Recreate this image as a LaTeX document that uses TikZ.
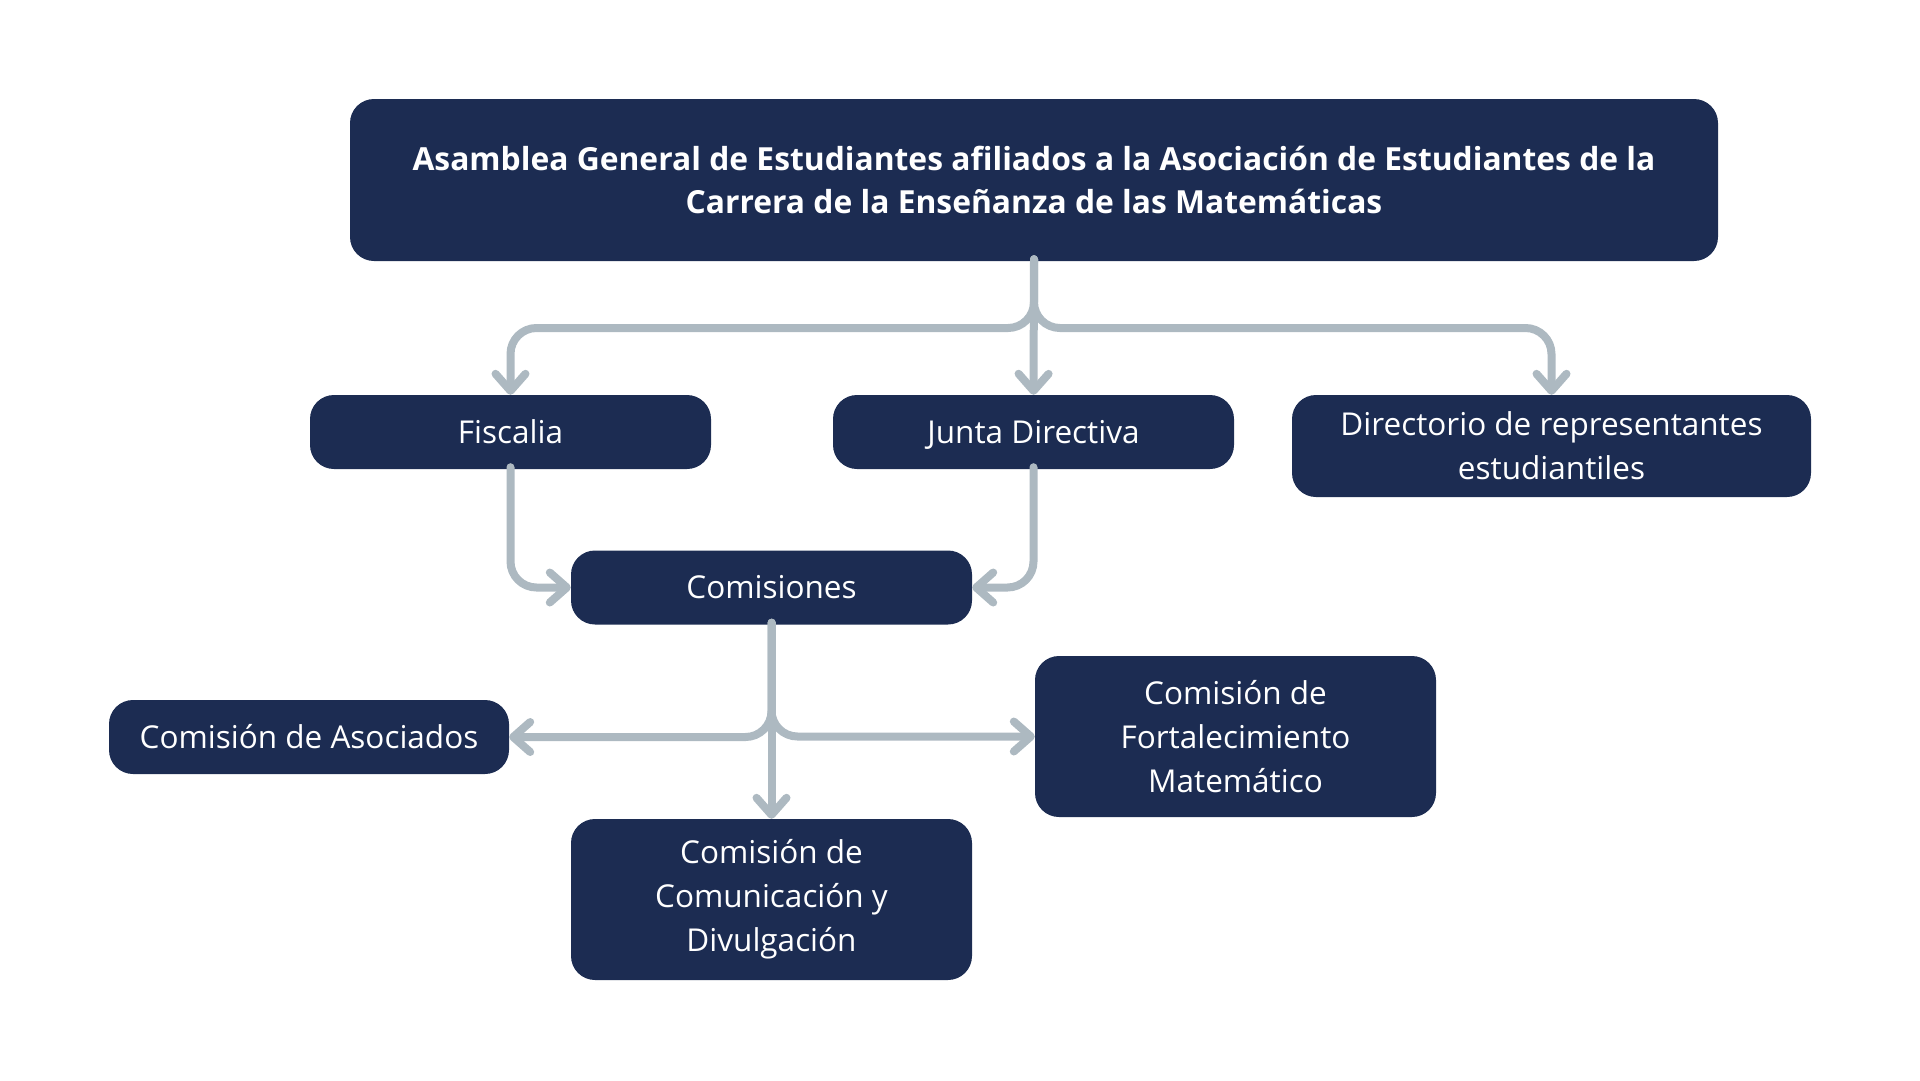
\documentclass[tikz,border=0pt]{standalone}
\usepackage{fontspec}
\setmainfont{Open Sans}
\usetikzlibrary{arrows.meta}
\definecolor{boxblue}{HTML}{1C2C52}
\definecolor{linegray}{HTML}{ADB9C1}
\begin{document}
\begin{tikzpicture}[x=1pt,y=-1pt,
  box/.style={fill=boxblue, rounded corners=24pt, text=white,
    inner sep=0pt, font=\fontsize{31.5}{44}\selectfont},
  multi/.style={box, align=center},
  single/.style={box, text height=30.5pt, text depth=8pt},
  conn/.style={draw=linegray, line width=8pt, rounded corners=26pt, line cap=round,
    -{Straight Barb[length=17pt,width=30pt,line cap=round,line join=round]}}
]
\path[use as bounding box] (0,0) rectangle (1920,1080);

\node[multi, minimum width=1368pt, minimum height=162pt, font=\bfseries\fontsize{31.8}{43}\selectfont] (top) at (1034,180)
  {Asamblea General de Estudiantes afiliados a la Asociación de Estudiantes de la\\Carrera de la Enseñanza de las Matemáticas};
\node[single, minimum width=401pt, minimum height=74pt] (fis) at (510.5,432) {Fiscalia};
\node[single, minimum width=401pt, minimum height=74pt] (jd) at (1033.5,432) {Junta Directiva};
\node[multi, minimum width=519pt, minimum height=102pt] (dir) at (1551.5,446) {Directorio de representantes\\estudiantiles};
\node[single, minimum width=401pt, minimum height=74pt] (com) at (771.5,587.5) {Comisiones};
\node[single, minimum width=400pt, minimum height=74pt] (aso) at (309,737) {Comisión de Asociados};
\node[multi, minimum width=401pt, minimum height=161pt] (fort) at (1235.5,736.5) {Comisión de\\Fortalecimiento\\Matemático};
\node[multi, minimum width=401pt, minimum height=161pt] (comu) at (771.5,899.5) {Comisión de\\Comunicación y\\Divulgación};

\coordinate (b1) at (1034,328);
\coordinate (b2) at (771.5,737);

\draw[conn] ([yshift=2pt]top.south) -- (jd.north);
\draw[conn] ([yshift=2pt]top.south) -- (top.south |- b1) -- (fis.north |- b1) -- (fis.north);
\draw[conn] ([yshift=2pt]top.south) -- (top.south |- b1) -- (dir.north |- b1) -- (dir.north);

\draw[conn] ([yshift=2pt]fis.south) |- (com.west);
\draw[conn] ([yshift=2pt]jd.south) |- (com.east);

\draw[conn] ([yshift=2pt]com.south) -- (comu.north);
\draw[conn] ([yshift=2pt]com.south) |- (aso.east);
\draw[conn] ([yshift=2pt]com.south) |- (fort.west);
\end{tikzpicture}
\end{document}
